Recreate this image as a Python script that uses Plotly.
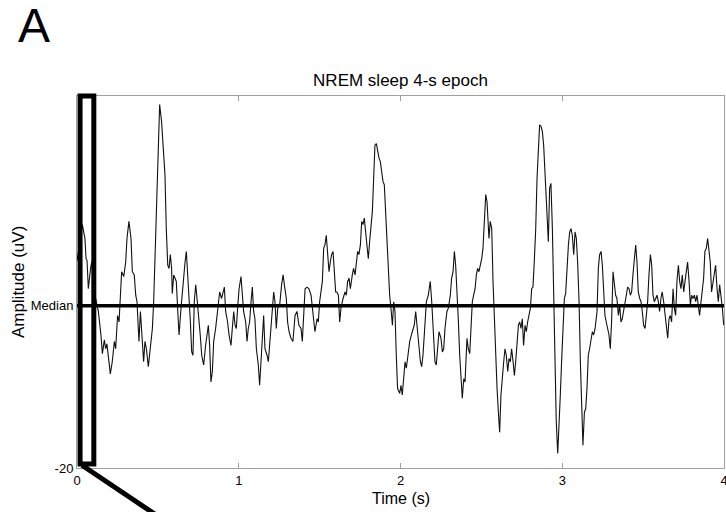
import plotly.graph_objects as go

# ---- data ----
time_s = [
    0.000, 0.015, 0.033, 0.049, 0.056, 0.062, 0.070, 0.084, 0.091, 0.111, 0.124, 0.132, 0.148, 0.157, 0.169, 0.177,
    0.185, 0.194, 0.206, 0.218, 0.231, 0.239, 0.251, 0.260, 0.268, 0.276, 0.289, 0.301, 0.309, 0.321,
    0.334, 0.342, 0.354, 0.363, 0.371, 0.375, 0.383, 0.392, 0.400, 0.412, 0.420, 0.429, 0.441, 0.453,
    0.466, 0.474, 0.482, 0.495, 0.503, 0.511, 0.523, 0.536, 0.544, 0.552, 0.561, 0.569, 0.577, 0.585,
    0.589, 0.598, 0.606, 0.614, 0.622, 0.631, 0.643, 0.651, 0.659, 0.668, 0.676, 0.684, 0.692, 0.701,
    0.709, 0.717, 0.725, 0.734, 0.742, 0.750, 0.762, 0.771, 0.783, 0.795,
    0.802, 0.812, 0.820, 0.828, 0.837, 0.845, 0.857, 0.870, 0.882, 0.894, 0.903, 0.911, 0.919, 0.931,
    0.940, 0.952, 0.960, 0.969, 0.977, 0.985, 0.993, 1.002, 1.014, 1.022, 1.030, 1.043, 1.051, 1.059,
    1.067, 1.076, 1.084, 1.092, 1.100, 1.109, 1.121, 1.129, 1.138, 1.146, 1.154, 1.162, 1.175, 1.183,
    1.195, 1.208, 1.216, 1.224, 1.232, 1.241, 1.253, 1.265, 1.274, 1.282, 1.294, 1.302, 1.311, 1.323,
    1.335, 1.348, 1.360, 1.372, 1.385, 1.393, 1.401, 1.410, 1.422, 1.434, 1.447, 1.459, 1.471, 1.484,
    1.492, 1.500, 1.508, 1.517, 1.525, 1.533, 1.541, 1.550, 1.558, 1.566, 1.574, 1.583, 1.591, 1.599,
    1.607, 1.616, 1.624, 1.632, 1.645, 1.657, 1.665, 1.673, 1.682, 1.690, 1.702, 1.710, 1.719, 1.727,
    1.735, 1.743, 1.752, 1.760, 1.768, 1.776, 1.785, 1.793, 1.801, 1.809, 1.818, 1.826, 1.834, 1.842,
    1.851, 1.859, 1.867, 1.875, 1.884, 1.892, 1.900, 1.908, 1.917, 1.925, 1.933, 1.941, 1.950, 1.958,
    1.966, 1.974, 1.982, 1.995, 2.003, 2.011, 2.020, 2.028, 2.036, 2.044, 2.057, 2.073, 2.085, 2.094,
    2.102, 2.110, 2.123, 2.131, 2.139, 2.147, 2.160, 2.172, 2.184, 2.193, 2.201, 2.213, 2.221, 2.230,
    2.238, 2.250, 2.259, 2.267, 2.275, 2.287, 2.296, 2.308, 2.316, 2.325, 2.333, 2.341, 2.349, 2.358,
    2.366, 2.374, 2.382, 2.391, 2.399,
    2.411, 2.419, 2.428, 2.436, 2.444, 2.452, 2.461, 2.469, 2.477, 2.485, 2.494, 2.502, 2.510, 2.518,
    2.527, 2.535, 2.543, 2.547, 2.555, 2.564, 2.572, 2.580, 2.588, 2.597, 2.605, 2.613, 2.621, 2.630,
    2.638, 2.646, 2.654, 2.663, 2.671, 2.679, 2.687, 2.696, 2.704, 2.712, 2.720, 2.729, 2.737, 2.745,
    2.753, 2.761, 2.770, 2.778, 2.786, 2.794, 2.803, 2.811, 2.819, 2.827, 2.836, 2.844, 2.852, 2.860,
    2.869, 2.877, 2.885, 2.893, 2.902, 2.906, 2.914, 2.922, 2.930, 2.939, 2.947, 2.955, 2.963, 2.972,
    2.980, 2.988, 2.996, 3.005, 3.013, 3.021, 3.029, 3.038, 3.046, 3.054, 3.062, 3.071, 3.079, 3.087,
    3.095, 3.104, 3.112, 3.120, 3.128, 3.137, 3.145, 3.153, 3.161, 3.169, 3.178, 3.186, 3.194, 3.203,
    3.215,
    3.223, 3.231, 3.240, 3.248, 3.256, 3.264, 3.272, 3.281, 3.289, 3.297, 3.305, 3.314, 3.322, 3.330,
    3.338, 3.347, 3.355, 3.363, 3.371, 3.380, 3.388, 3.396, 3.404, 3.413, 3.421, 3.429, 3.437, 3.446,
    3.454, 3.462, 3.470, 3.479, 3.487, 3.495, 3.503, 3.512, 3.520, 3.528, 3.536, 3.545, 3.553, 3.561,
    3.569, 3.577, 3.586, 3.594, 3.602, 3.610, 3.618, 3.627, 3.635, 3.643, 3.652, 3.660, 3.668, 3.676,
    3.685, 3.693, 3.701, 3.709, 3.718, 3.726, 3.734, 3.742, 3.751, 3.759, 3.767, 3.775, 3.784, 3.792,
    3.800, 3.808, 3.817, 3.825, 3.833, 3.841, 3.849, 3.858, 3.866, 3.874, 3.882, 3.891, 3.899, 3.907,
    3.915, 3.923, 3.932, 3.940, 3.948, 3.957, 3.965, 3.973, 3.981, 3.990, 3.998,
]

amplitude_uv = [
    5.5, 7.5, 10.0, 8.3, 5.8, 5.6, 2.1, 4.6, 5.4, 1.3, 0.1, -0.7, -3.6, -5.9, -4.2, -5.3,
    -4.7, -6.5, -8.4, -6.9, -4.4, -5.3, -1.2, -2.0, 2.1, 4.2, 3.6, 5.4, 8.3, 10.4,
    8.3, 4.2, 3.8, 1.3, 0.5, -2.0, -4.4, -0.7, -2.8, -6.9, -4.4, -5.3, -7.5, -5.3,
    -2.8, 0.5, 5.4, 13.7, 20.7, 24.8, 22.7, 18.6, 16.1, 9.5, 5.0, 4.6, 6.3, 4.6,
    1.5, 3.8, 3.4, 3.0, -0.3, -3.6, -0.3, 1.7, 3.4, 5.4, 6.7, 4.2, 1.3, -2.0,
    -5.7, -6.1, 0.5, 2.6, 0.9, -0.7, -3.6, -6.1, -7.3, -4.9,
    -4.0, -2.4, -4.9, -9.4, -8.1, -4.4, -2.8, -0.3, 1.7, 0.9, 1.7, 2.3, -0.7, -2.0,
    -3.6, -4.9, -2.8, -0.7, -2.4, -2.8, -0.3, 2.1, 3.6, 1.7, -0.7, -2.0, -4.4, -2.8,
    -2.0, 0.5, 2.3, -0.7, -1.6, -5.3, -7.3, -9.8, -6.1, -3.2, -1.2, -5.3, -6.1, -6.9,
    -3.6, -0.3, 1.7, 0.5, -2.8, -0.3, 0.1, 2.6, 3.8, 2.6, 0.9, -2.0, -3.2, -4.0,
    -4.4, -1.2, -0.7, -2.4, -2.8, -4.4, -0.7, 2.1, 2.3, 2.1, 1.3, -0.7, -3.2, -1.6,
    -2.0, 0.5, 2.1, 3.0, 7.1, 7.5, 8.7, 6.7, 4.2, 5.4, 6.3, 6.7, 4.2, 1.7,
    1.7, 1.3, -2.0, -0.3, 0.9, 1.7, 1.3, 3.0, 3.4, 2.1, 3.8, 4.6, 3.8, 5.4,
    6.7, 6.3, 7.5, 10.4, 10.0, 10.8, 8.7, 7.1, 5.8, 7.9, 9.5, 11.6, 15.7, 19.8,
    20.0, 19.0, 18.2, 17.8, 16.1, 15.3, 14.9, 11.6, 7.5, 4.2, 1.3, -0.3, -2.4, 0.5,
    -0.7, -6.1, -10.2, -10.8, -9.8, -11.0, -9.0, -6.9, -7.7, -6.1, -4.4, -3.2, -2.4, -0.7,
    -2.4, -4.0, -6.9, -7.5, -6.1, -3.6, 0.5, 1.3, 3.0, 0.5, -2.8, -6.9, -7.3, -5.3,
    -3.2, -4.0, -5.7, -5.3, -2.8, -0.7, -0.3, 1.3, 3.4, 4.2, 6.7, 5.0, 2.1, -2.0,
    -6.1, -9.0, -11.4, -9.0, -9.4,
    -4.0, -5.3, -5.9, -2.8, 0.5, 1.3, 2.1, 3.8, 4.6, 4.2, 5.0, 5.8, 7.1, 10.4,
    13.7, 12.8, 10.4, 8.3, 10.4, 9.5, 3.0, -2.0, -6.1, -10.2, -13.1, -15.6, -11.0, -8.1,
    -6.9, -5.3, -6.1, -8.1, -6.5, -6.9, -5.3, -6.9, -8.6, -6.9, -4.4, -2.4, -2.0, -2.8,
    -1.6, -4.9, -2.4, -3.2, -2.0, -1.2, -0.3, 2.1, 2.3, 5.4, 9.5, 15.7, 19.8, 22.3,
    22.1, 21.5, 19.8, 16.5, 13.7, 10.4, 7.9, 14.5, 15.1, 9.5, 0.5, -6.9, -14.3, -18.2,
    -15.1, -11.0, -6.9, -2.0, 0.9, 1.5, 4.6, 7.5, 9.1, 9.5, 8.7, 6.3, 9.1, 8.3,
    5.4, 0.5, -6.9, -13.5, -17.2, -13.1, -12.7, -10.2, -6.1, -5.3, -4.0, -3.2, -3.6, -2.8,
    -0.7,
    4.6, 6.3, 6.7, 5.0, 2.1, -1.2, -2.0, -2.8, -3.6, -5.3, -2.0, 4.2, 3.0, 1.3,
    0.9, -1.2, 0.1, -2.0, -1.6, -0.7, 0.1, 1.3, 2.3, 2.1, 1.3, 1.7, 3.8, 5.4,
    7.5, 5.4, 1.7, 0.9, 0.5, -0.7, -2.4, -2.8, -1.2, 0.5, 3.8, 6.3, 5.0, 1.3,
    0.5, 0.9, 1.3, 0.5, -0.7, 0.9, 1.7, 0.5, -1.2, -2.8, -4.0, -1.6, -1.2, -2.0,
    2.1, -0.3, -1.2, 3.0, 5.0, 3.0, 2.1, 3.8, 1.7, 3.0, 4.6, 5.4, 3.0, 0.1,
    1.3, 0.9, 1.3, 0.5, 1.3, -0.3, -1.2, 0.5, 2.1, 3.4, 6.7, 7.1, 8.3, 6.3,
    5.4, 1.7, 3.0, 3.8, 5.0, 2.1, 0.5, 2.6, 1.3, -0.3, -2.4,
]

x_tick_vals = [0, 1, 2, 3, 4]
x_tick_text = ["0", "1", "2", "3", "4"]
y_tick_vals = [-20, 0]
y_tick_text = ["-20", "Median"]

median_level = 0
x_range = [0, 4]
y_range = [-20, 25.86]
zoom_window = [0.019, 0.104]   # seconds, highlighted box
zoom_bottom = -19.5

FONT = "Liberation Sans, Arial, sans-serif"
AXIS_GRAY = "#a0a0a0"

fig = go.Figure()
fig.add_trace(go.Scatter(
    x=time_s, y=amplitude_uv, mode="lines",
    line=dict(color="#111111", width=1.1),
    hoverinfo="skip", showlegend=False,
))

def xp(t):
    return (t - x_range[0]) / (x_range[1] - x_range[0])

def yp(v):
    return (v - y_range[0]) / (y_range[1] - y_range[0])

# median line
fig.add_shape(type="line", xref="x", yref="y",
              x0=x_range[0], x1=x_range[1], y0=median_level, y1=median_level,
              line=dict(color="black", width=3.5))
# highlighted window box
fig.add_shape(type="rect", xref="paper", yref="paper",
              x0=xp(zoom_window[0]), x1=xp(zoom_window[1]),
              y0=yp(zoom_bottom), y1=1.0,
              line=dict(color="black", width=5))
# connector line leaving the box
fig.add_shape(type="line", xref="paper", yref="paper",
              x0=0.0077, y0=0.0073, x1=0.128, y1=-0.133,
              line=dict(color="black", width=5))

fig.update_layout(
    width=726, height=512,
    margin=dict(l=77, r=2, t=96, b=44, autoexpand=False),
    paper_bgcolor="white", plot_bgcolor="white",
    font=dict(family=FONT, color="black", size=13),
    title=dict(text="NREM sleep 4-s epoch", x=0.5, xref="paper", xanchor="center",
               y=1 - 80 / 512, yanchor="middle", font=dict(size=17, family=FONT)),
    showlegend=False,
    xaxis=dict(range=x_range, tickvals=x_tick_vals, ticktext=x_tick_text,
               showgrid=False, zeroline=False, showline=True, linecolor=AXIS_GRAY,
               linewidth=1, mirror="ticks", ticks="inside", ticklen=5,
               tickcolor=AXIS_GRAY, tickfont=dict(size=13, family=FONT),
               ticklabeloverflow="allow", automargin=False),
    yaxis=dict(range=y_range, tickvals=y_tick_vals, ticktext=y_tick_text,
               showgrid=False, zeroline=False, showline=True, linecolor=AXIS_GRAY,
               linewidth=1, mirror="ticks", ticks="inside", ticklen=5,
               tickcolor=AXIS_GRAY, tickfont=dict(size=13, family=FONT),
               automargin=False),
    annotations=[
        dict(text="Time (s)", xref="paper", yref="paper", x=0.5, y=-0.082,
             xanchor="center", yanchor="middle", showarrow=False,
             font=dict(size=16, family=FONT)),
        dict(text="Amplitude (uV)", xref="paper", yref="paper", x=-0.091, y=0.5,
             xanchor="center", yanchor="middle", textangle=-90, showarrow=False,
             font=dict(size=17, family=FONT)),
        dict(text="A", xref="paper", yref="paper", x=-0.094,
             y=(512 - 44 - 25.5) / (512 - 96 - 44),
             xanchor="left", yanchor="middle", showarrow=False,
             font=dict(size=48, family=FONT)),
    ],
)

fig.write_html("out.html", config={"displayModeBar": False},
               post_script="document.body.style.margin='0';")
